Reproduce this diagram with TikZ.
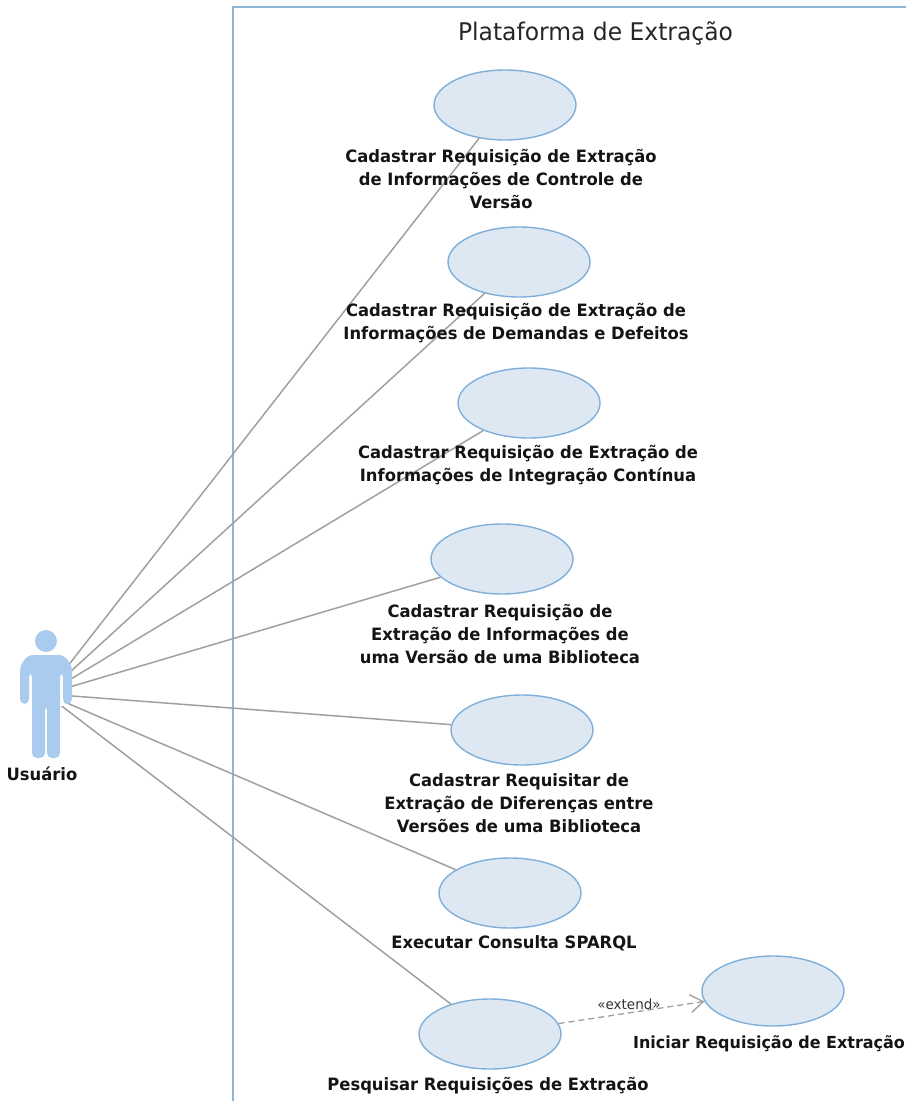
\documentclass[tikz,border=0pt]{standalone}
\usepackage{fontspec}
\setmainfont{DejaVu Sans}[FakeStretch=0.963]
\usetikzlibrary{shapes.geometric,arrows.meta}
\definecolor{ucfill}{HTML}{DEE8F3}
\definecolor{ucline}{HTML}{7FAFD8}
\definecolor{frameline}{HTML}{8DB6D9}
\definecolor{actorc}{HTML}{A9CCEE}
\definecolor{assoc}{HTML}{A0A0A0}
\tikzset{
  usecase/.style={ellipse,draw=ucline,fill=ucfill,line width=1.4pt,minimum width=142pt,minimum height=70pt,inner sep=0pt},
  uclabel/.style={align=center,inner sep=0pt,text=black!92,font=\fontsize{17}{23}\selectfont\bfseries},
  assocline/.style={draw=assoc,line width=1.5pt},
  extline/.style={draw=assoc,line width=1.3pt,dash pattern=on 6pt off 4pt},
}
\begin{document}
\begin{tikzpicture}[x=1pt,y=-1pt]
\useasboundingbox (0,0) rectangle (906,1101);
\coordinate (actor) at (46,694);
\coordinate (frameA) at (906,7);
\coordinate (frameB) at (233,7);
\coordinate (frameC) at (233,1101);
\draw[draw=frameline,line width=1.4pt] (frameA) -- (frameB) -- (frameC);
\node[inner sep=0pt,text=black!85,font=\fontsize{24.3}{28}\selectfont] (title) at (595.5,33) {Plataforma de Extração};
\node[usecase] (uc1) at (505,105) {};
\node[usecase] (uc2) at (519,262) {};
\node[usecase] (uc3) at (529,403) {};
\node[usecase] (uc4) at (502,559) {};
\node[usecase] (uc5) at (522,730) {};
\node[usecase] (uc6) at (510,893) {};
\node[usecase] (uc7) at (490,1034) {};
\node[usecase] (uc8) at (773,991) {};
\foreach \u in {uc1,uc2,uc3,uc4,uc5,uc6,uc7}{\draw[assocline] (actor) -- (\u);}
\draw[extline,-{Straight Barb[length=13pt,width=18pt,line width=1.3pt]}] (uc7) -- (uc8);
\node[inner sep=0pt,text=black!80,font=\fontsize{14}{16}\selectfont] (ext) at (629,1004) {«extend»};
\fill[white] (59,668) rectangle (64,706);
\fill[actorc] (46,641) circle[radius=11];
\fill[actorc,rounded corners=5pt] (20,704) -- (20,666) -- (28,655) -- (64,655) -- (72,666) -- (72,704) -- (63,704) -- (63,672) -- (60,672) -- (60,758) -- (47,758) -- (47,705) -- (45,705) -- (45,758) -- (32,758) -- (32,672) -- (29,672) -- (29,704) -- cycle;
\node[uclabel] (lactor) at (42,774) {Usuário};
\node[uclabel] (l1) at (501,179) {Cadastrar Requisição de Extração\\de Informações de Controle de\\Versão};
\node[uclabel] (l2) at (516,323.5) {Cadastrar Requisição de Extração de\\Informações de Demandas e Defeitos};
\node[uclabel] (l3) at (528,465.5) {Cadastrar Requisição de Extração de\\Informações de Integração Contínua};
\node[uclabel] (l4) at (500,634) {Cadastrar Requisição de\\Extração de Informações de\\uma Versão de uma Biblioteca};
\node[uclabel] (l5) at (519,803) {Cadastrar Requisitar de\\Extração de Diferenças entre\\Versões de uma Biblioteca};
\node[uclabel] (l6) at (514,943) {Executar Consulta SPARQL};
\node[uclabel] (l7) at (488,1086) {Pesquisar Requisições de Extração};
\node[uclabel,font=\fontsize{16.6}{23}\selectfont\bfseries] (l8) at (769,1044) {Iniciar Requisição de Extração};
\end{tikzpicture}
\end{document}
